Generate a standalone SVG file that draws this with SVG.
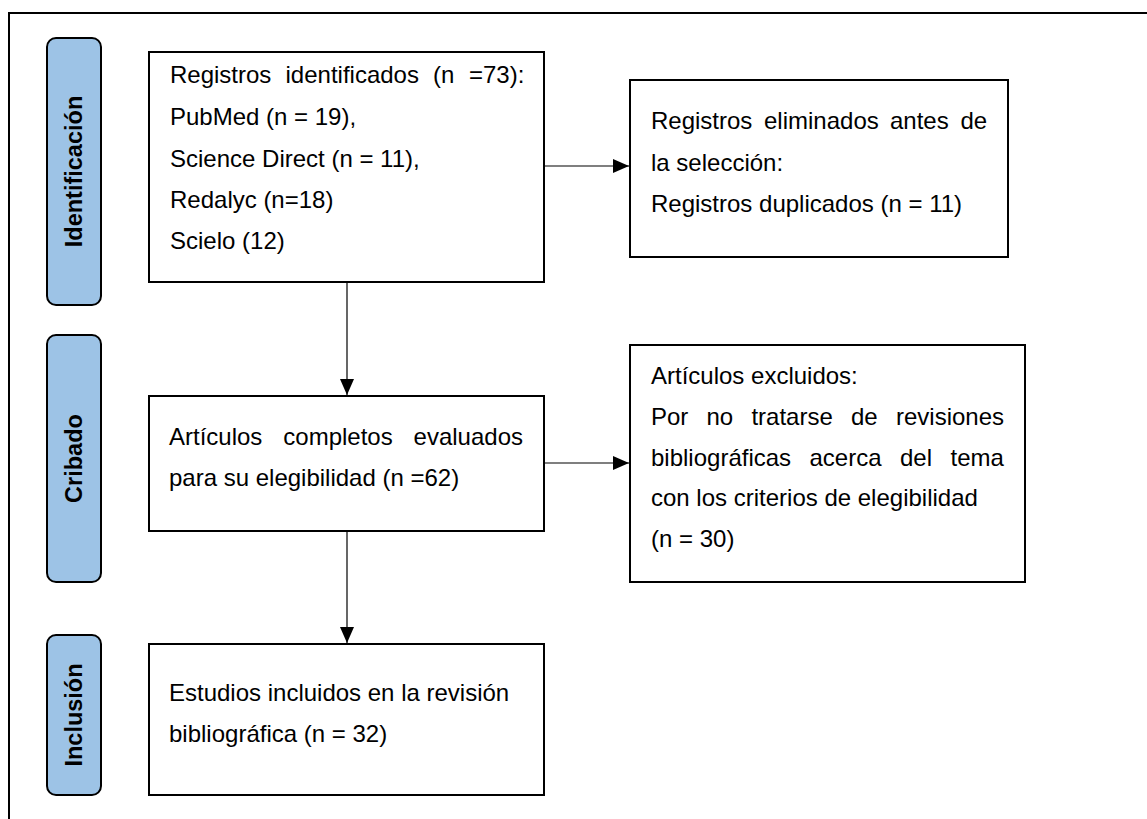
<svg xmlns="http://www.w3.org/2000/svg" width="1147" height="819" viewBox="0 0 1147 819">
<defs>
<style>
.box{fill:#fff;stroke:#000;stroke-width:2}
.side{fill:#9DC3E6;stroke:#000;stroke-width:2}
.t{font-family:"Liberation Sans",Arial,sans-serif;font-size:24px;fill:#000}
.lab{font-family:"Liberation Sans",Arial,sans-serif;font-size:23.5px;font-weight:bold;fill:#000;text-anchor:middle}
.con{stroke:#000;stroke-width:1.2;fill:none}
</style>
<marker id="arr" markerWidth="16" markerHeight="14" refX="16" refY="7" orient="auto" markerUnits="userSpaceOnUse">
<path d="M0,0 L16,7 L0,14 Z" fill="#000"/>
</marker>
</defs>
<rect width="1147" height="819" fill="#fff"/>
<g id="frame">
<path d="M9,819 L9,13 L1147,13" fill="none" stroke="#000" stroke-width="2"/>
</g>
<g id="stage-identificacion">
<rect class="side" x="47" y="38" width="54" height="267" rx="9"/>
<text class="lab" transform="translate(82,171.5) rotate(-90)">Identificación</text>
</g>
<g id="stage-cribado">
<rect class="side" x="47" y="335" width="54" height="247" rx="9"/>
<text class="lab" transform="translate(82,458.5) rotate(-90)">Cribado</text>
</g>
<g id="stage-inclusion">
<rect class="side" x="47" y="635" width="54" height="160" rx="9"/>
<text class="lab" transform="translate(82,715) rotate(-90)">Inclusión</text>
</g>
<g id="connectors">
<line class="con" x1="347" y1="283" x2="347" y2="395" marker-end="url(#arr)"/>
<line class="con" x1="347" y1="532" x2="347" y2="643" marker-end="url(#arr)"/>
<line class="con" x1="545" y1="166" x2="629" y2="166" marker-end="url(#arr)"/>
<line class="con" x1="545" y1="463" x2="629" y2="463" marker-end="url(#arr)"/>
</g>
<g id="node-identificados">
<rect class="box" x="149" y="52" width="395" height="230"/>
<text class="t" y="83"><tspan x="170">Registros</tspan><tspan x="285.5">identificados</tspan><tspan x="433">(n</tspan><tspan x="469">=73):</tspan></text>
<text class="t" x="170" y="125">PubMed (n = 19),</text>
<text class="t" x="170" y="166.5">Science Direct (n = 11),</text>
<text class="t" x="170" y="207.5">Redalyc (n=18)</text>
<text class="t" x="170" y="249">Scielo (12)</text>
</g>
<g id="node-eliminados">
<rect class="box" x="630" y="80" width="378" height="177"/>
<text class="t" y="129"><tspan x="651">Registros</tspan><tspan x="764">eliminados</tspan><tspan x="890">antes</tspan><tspan x="960.5">de</tspan></text>
<text class="t" x="651" y="170.5">la selección:</text>
<text class="t" x="651" y="211.5">Registros duplicados (n = 11)</text>
</g>
<g id="node-evaluados">
<rect class="box" x="149" y="396" width="395" height="135"/>
<text class="t" y="445"><tspan x="169">Artículos</tspan><tspan x="283.3">completos</tspan><tspan x="413.6">evaluados</tspan></text>
<text class="t" x="169" y="486">para su elegibilidad (n =62)</text>
</g>
<g id="node-excluidos">
<rect class="box" x="630" y="345" width="395" height="237"/>
<text class="t" x="651" y="383.5">Artículos excluidos:</text>
<text class="t" y="424.5"><tspan x="651">Por</tspan><tspan x="706.5">no</tspan><tspan x="751.4">tratarse</tspan><tspan x="851">de</tspan><tspan x="896">revisiones</tspan></text>
<text class="t" y="465.5"><tspan x="651">bibliográficas</tspan><tspan x="809.5">acerca</tspan><tspan x="900">del</tspan><tspan x="950.5">tema</tspan></text>
<text class="t" x="651" y="506">con los criterios de elegibilidad</text>
<text class="t" x="651" y="547">(n = 30)</text>
</g>
<g id="node-incluidos">
<rect class="box" x="149" y="644" width="395" height="151"/>
<text class="t" x="169" y="701">Estudios incluidos en la revisión</text>
<text class="t" x="169" y="742">bibliográfica (n = 32)</text>
</g>
</svg>
